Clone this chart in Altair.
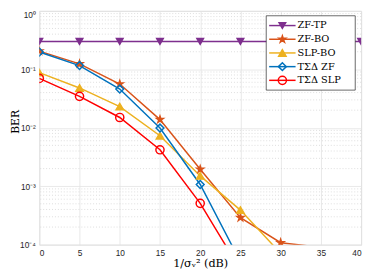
import altair as alt
import pandas as pd

snr = [0, 5, 10, 15, 20, 25, 30, 35, 40]
series = ["ZF-TP", "ZF-BO", "SLP-BO", "TΣΔ ZF", "TΣΔ SLP"]
colors = ["#7E2F8E", "#D95319", "#EDB120", "#0072BD", "#FF0000"]

zf_tp = [0.3, 0.3, 0.3, 0.3, 0.3, 0.3, 0.3, 0.3, 0.3]
zf_bo = [0.205, 0.124, 0.056, 0.0138, 0.00195, 2.9e-4, 1.08e-4, 9.0e-5]
slp_bo = [0.088, 0.048, 0.023, 0.0073, 0.0015, 3.9e-4, 7.1e-5]
tsd_zf = [0.198, 0.116, 0.046, 0.0099, 0.00107, 5.1e-5]
tsd_slp = [0.070, 0.0345, 0.015, 0.0042, 5.1e-4, 3.7e-5]

y_major = [1e-4, 1e-3, 1e-2, 1e-1, 1]
y_minor = [m * 10.0 ** k for k in range(-4, 0) for m in range(2, 10)]
x_ticks = [0, 5, 10, 15, 20, 25, 30, 35, 40]

rows = []
for name, vals in zip(series, [zf_tp, zf_bo, slp_bo, tsd_zf, tsd_slp]):
    for x, v in zip(snr, vals):
        rows.append({"snr": x, "ber": v, "series": name})
df = pd.DataFrame(rows)
minor_df = pd.DataFrame({"v": y_minor})
leg_df = pd.DataFrame({"series": series})
box_df = pd.DataFrame({"a": [0]})

star = ("M0,-1L0.2245,-0.309L0.951,-0.309L0.363,0.118L0.588,0.809L0,0.382"
        "L-0.588,0.809L-0.363,0.118L-0.951,-0.309L-0.2245,-0.309Z")
shapes = ["triangle-down", star, "triangle-up", "diamond", "circle"]
fills = ["#7E2F8E", "#D95319", "#EDB120", "transparent", "transparent"]
sizes = [45, 70, 45, 30, 36]

AX = "#262626"
sans = "Liberation Sans"
serif = "DejaVu Serif"

color_scale = alt.Scale(domain=series, range=colors)
shape_scale = alt.Scale(domain=series, range=shapes)
fill_scale = alt.Scale(domain=series, range=fills)
size_scale = alt.Scale(domain=series, range=sizes)

xscale = alt.Scale(domain=[0, 40], nice=False)
yscale = alt.Scale(type="log", domain=[1e-4, 1], nice=False)

label_expr = ("datum.value >= 1 ? '10⁰' : datum.value >= 0.1 ? '10⁻¹' : "
              "datum.value >= 0.01 ? '10⁻²' : datum.value >= 0.001 ? '10⁻³' : '10⁻⁴'")

xaxis = alt.Axis(values=x_ticks, grid=True, gridColor="#e3e3e3", gridWidth=0.8,
                 domain=False, ticks=False, labelFont=sans, labelFontSize=8.5,
                 labelColor=AX, labelPadding=4, title="1/σᵥ² (dB)",
                 titleFont=serif, titleFontSize=11.5, titleFontWeight="normal",
                 titleColor="#000000", titleY=22, titleBaseline="alphabetic")
yaxis = alt.Axis(values=y_major, grid=True, gridColor="#e3e3e3", gridWidth=0.8,
                 domain=False, ticks=False, labelFont=sans, labelFontSize=8.5,
                 labelColor=AX, labelPadding=4, labelExpr=label_expr,
                 labelBaseline={"condition": {"test": "datum.value >= 1", "value": "top"},
                                "value": "middle"},
                 title="BER", titleFont=serif, titleFontSize=11,
                 titleFontWeight="normal", titleColor="#000000",
                 titleX=-24, titleY=113, titleAngle=-90, titleAlign="center",
                 titleBaseline="middle")

minor = alt.Chart(minor_df).mark_rule(strokeDash=[1, 2], color="#cfcfcf",
                                      strokeWidth=0.7).encode(
    y=alt.Y("v:Q", scale=yscale, axis=yaxis)
)

lines = alt.Chart(df).mark_line(strokeWidth=1.5, clip=True).encode(
    x=alt.X("snr:Q", scale=xscale, axis=xaxis),
    y=alt.Y("ber:Q", scale=yscale, axis=yaxis),
    color=alt.Color("series:N", scale=color_scale, legend=None),
)

points = alt.Chart(df).transform_filter("datum.ber >= 0.0001").mark_point(
    strokeWidth=1.5, opacity=1, clip=True).encode(
    x=alt.X("snr:Q", scale=xscale),
    y=alt.Y("ber:Q", scale=yscale),
    shape=alt.Shape("series:N", scale=shape_scale, legend=None),
    stroke=alt.Stroke("series:N", scale=color_scale, legend=None),
    fill=alt.Fill("series:N", scale=fill_scale, legend=None),
    size=alt.Size("series:O", scale=size_scale, legend=None),
)

main = alt.layer(minor, lines, points)

leg_y = alt.Y("series:N", scale=alt.Scale(type="point", domain=series,
                                          range=[15, 71], padding=0), axis=None)

box = alt.Chart(box_df).mark_rect(fill="white", stroke=AX, strokeWidth=0.7).encode(
    x=alt.value(232), x2=alt.value(323), y=alt.value(5), y2=alt.value(81)
)
leg_line = alt.Chart(leg_df).mark_rule(strokeWidth=1.5).encode(
    x=alt.value(235), x2=alt.value(262), y=leg_y,
    color=alt.Color("series:N", scale=color_scale, legend=None),
)
leg_pt = alt.Chart(leg_df).mark_point(strokeWidth=1.5, opacity=1).encode(
    x=alt.value(248.5), y=leg_y,
    shape=alt.Shape("series:N", scale=shape_scale, legend=None),
    stroke=alt.Stroke("series:N", scale=color_scale, legend=None),
    fill=alt.Fill("series:N", scale=fill_scale, legend=None),
    size=alt.Size("series:O", scale=size_scale, legend=None),
)
leg_txt = alt.Chart(leg_df).mark_text(align="left", baseline="middle", font=serif,
                                      fontSize=10, color="#000000").encode(
    x=alt.value(264), y=leg_y, text="series:N"
)
legend = alt.layer(box, leg_line, leg_pt, leg_txt)

chart = alt.layer(main, legend).resolve_scale(y="independent").properties(
    width=329, height=239, autosize="none",
    padding={"left": 32, "top": 0, "right": 5, "bottom": 25},
).configure_view(stroke=AX, strokeWidth=0.7).configure(background="white")

chart.save("out.html", embed_options={"renderer": "svg", "actions": False})
